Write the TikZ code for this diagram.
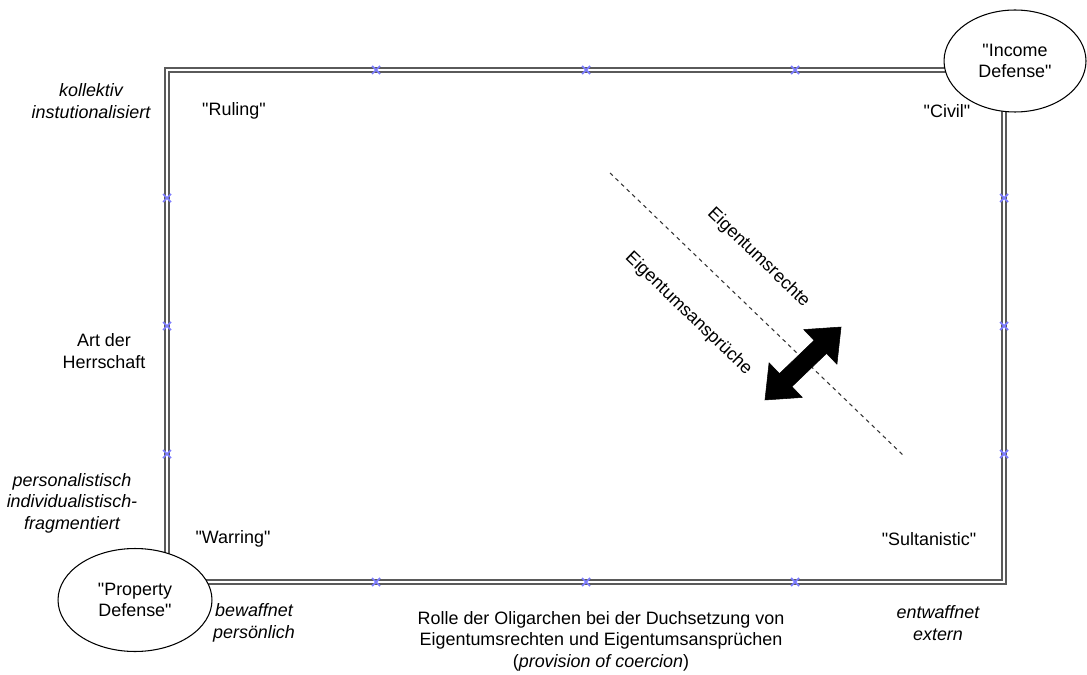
\documentclass[tikz,border=0pt]{standalone}
\usepackage{fontspec}
\setmainfont{Liberation Sans}[Ligatures=TeXOff]
\usetikzlibrary{shapes.geometric}
\definecolor{framegray}{RGB}{90,90,90}
\definecolor{pointblue}{RGB}{125,125,255}
% straight double quotes around a name
\newcommand{\qname}[1]{"#1"}
\begin{document}
\begin{tikzpicture}[x=0.02cm,y=-0.02cm,
  txt/.style={font=\fontsize{10.2}{12.2}\selectfont, align=center, inner sep=0pt},
  itxt/.style={font=\fontsize{10.2}{12.2}\selectfont\itshape, align=center, inner sep=0pt},
  frameline/.style={draw=framegray, line width=0.8pt, double=white, double distance=1.3pt},
  bubble/.style={ellipse, draw=black, line width=0.6pt, fill=white, inner sep=0pt,
    minimum width=2.84cm, minimum height=2.04cm,
    font=\fontsize{10.2}{12.2}\selectfont, align=center},
  cpoint/.style={draw=pointblue, line width=1pt},
  divider/.style={draw=black!80, line width=0.6pt, dash pattern=on 2.2pt off 2.2pt},
  blockarrow/.style={fill=black, draw=black, line width=0.3pt, line join=miter}
]
\useasboundingbox (0,0) rectangle (1087,675);

% outer frame of the typology
\coordinate (tl) at (167,70);
\coordinate (br) at (1004,582);
\draw[frameline] (tl) rectangle (br);

% connection points along the frame
\foreach \px in {376,586,795} {
  \foreach \py in {70,582} {
    \draw[cpoint] (\px-4,\py-4) -- (\px+4,\py+4) (\px-4,\py+4) -- (\px+4,\py-4);
  }
}
\foreach \py in {198,326,454} {
  \foreach \px in {167,1004} {
    \draw[cpoint] (\px-4,\py-4) -- (\px+4,\py+4) (\px-4,\py+4) -- (\px+4,\py-4);
  }
}

% corner bubbles
\node[bubble] (income) at (1015,61) {\qname{Income\\Defense}};
\node[bubble, minimum width=3.08cm, minimum height=2.06cm] (property) at (135,600) {\qname{Property\\Defense}};

% quadrant names
\node[txt] (ruling) at (234,111) {\qname{Ruling}};
\node[txt] (civil) at (947,111) {\qname{Civil}};
\node[txt] (warring) at (233,539) {\qname{Warring}};
\node[txt] (sultan) at (929,539) {\qname{Sultanistic}};

% vertical axis labels
\node[itxt] (kollektiv) at (91,101) {kollektiv\\instutionalisiert};
\node[txt] (herrschaft) at (104,351) {Art der\\Herrschaft};
\node[itxt] (personal) at (72,503) {personalistisch\\individualistisch-\\fragmentiert};

% horizontal axis labels
\node[itxt] (bewaffnet) at (254,623) {bewaffnet\\persönlich};
\node[itxt] (entwaffnet) at (938,623) {entwaffnet\\extern};
\node[txt] (rolle) at (601,641) {Rolle der Oligarchen bei der Duchsetzung von\\Eigentumsrechten und Eigentumsansprüchen\\(\textit{provision of coercion})};

% diagonal divider
\coordinate (d1) at (610,173);
\coordinate (d2) at (905,457);
\draw[divider] (d1) -- (d2);
\node[txt, rotate=-44] (rechte) at (758.5,257.5) {Eigentumsrechte};
\node[txt, rotate=-44] (ansprueche) at (688.5,314) {Eigentumsansprüche};

% two-headed block arrow across the divider
\begin{scope}[shift={(803,363.5)}, rotate=43.8]
  \fill[blockarrow] (52.7,0) -- (24,24) -- (24,9) -- (-24,9) -- (-24,24) -- (-52.7,0)
    -- (-24,-24) -- (-24,-9) -- (24,-9) -- (24,-24) -- cycle;
\end{scope}
\end{tikzpicture}
\end{document}
